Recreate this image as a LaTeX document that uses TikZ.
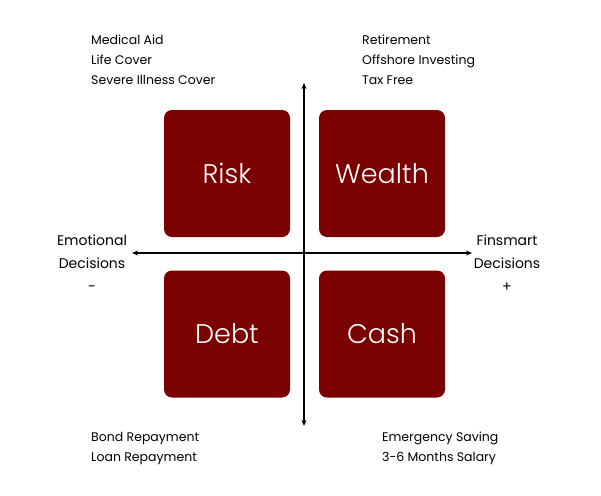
\documentclass[tikz,border=0pt]{standalone}
\usepackage{fontspec}
\setmainfont{Poppins}
\newfontfamily\lightfont{Poppins Light}
\usetikzlibrary{arrows.meta,positioning}
\definecolor{maroon}{RGB}{123,0,0}

\begin{document}
\begin{tikzpicture}[x=1pt,y=-1pt,
  quad/.style={fill=maroon,rounded corners=8pt,minimum width=126pt,minimum height=127pt,
    inner sep=0pt,text=white,font=\lightfont\fontsize{27}{30}\selectfont},
  items/.style={anchor=north west,align=left,inner sep=0pt,font=\fontsize{12.5}{20}\selectfont},
  side/.style={align=center,inner sep=0pt,font=\fontsize{14}{23}\selectfont},
  axis/.style={line width=1.4pt,{Stealth[length=6pt,width=5pt]}-{Stealth[length=6pt,width=5pt]}}]
\useasboundingbox (0,0) rectangle (601,495);
% the four quadrants
\node[quad] (risk) at (227,173.5) {Risk};
\node[quad] (wealth) at (382,173.5) {Wealth};
\node[quad] (debt) at (227,334) {Debt};
\node[quad] (cash) at (382,334) {Cash};
% axes
\coordinate (top) at (304,83);
\coordinate (bottom) at (304,426);
\coordinate (left) at (132,253);
\coordinate (right) at (472,253);
\draw[axis] (top) -- (bottom);
\draw[axis] (left) -- (right);
% axis labels
\node[side] (emotional) at (92,263) {Emotional\\Decisions\\-};
\node[side] (finsmart) at (507,263) {Finsmart\\Decisions\\+};
% lists
\node[items] (risklist) at (91,35) {Medical Aid\\Life Cover\\Severe Illness Cover};
\node[items] (wealthlist) at (362,35) {Retirement\\Offshore Investing\\Tax Free};
\node[items] (debtlist) at (91,432) {Bond Repayment\\Loan Repayment};
\node[items] (cashlist) at (382,432) {Emergency Saving\\3-6 Months Salary};
\end{tikzpicture}
\end{document}
